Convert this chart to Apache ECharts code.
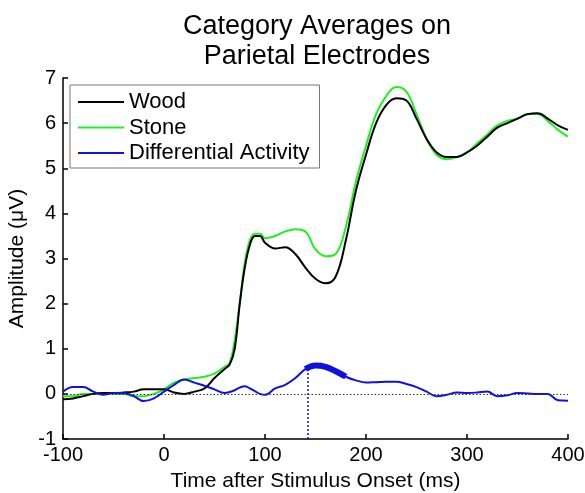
<!DOCTYPE html>
<html>
<head>
<meta charset="utf-8">
<script src="https://cdn.jsdelivr.net/npm/echarts@6/dist/echarts.min.js"></script>
<style>
  html, body { margin: 0; padding: 0; background: #fff; }
  #chart { width: 585px; height: 493px; }
</style>
</head>
<body>
<div id="chart"></div>
<script>
// time points (ms)
var times = [-100, -90, -80, -70, -60, -50, -40, -30, -20, -10, 0, 10, 20, 30, 40, 50, 60, 65, 70, 75, 80, 85, 90, 95, 100,
  110, 120, 130, 140, 150, 160, 170, 180, 190, 200, 210, 220, 230, 240, 250, 260, 270, 280, 290, 300,
  310, 320, 330, 340, 350, 360, 370, 380, 390, 400]

var wood = [-0.12, -0.1, -0.05, 0, 0.02, 0.02, 0.03, 0.05, 0.1, 0.1, 0.1, 0.03, 0.0, 0.05, 0.12, 0.35, 0.55, 0.65, 1.0, 2.0, 2.8, 3.3, 3.5, 3.5, 3.35,
  3.22, 3.25, 3.1, 2.8, 2.55, 2.45, 2.6, 3.4, 4.5, 5.3, 6.0, 6.4, 6.55, 6.5, 6.1, 5.65, 5.35, 5.25, 5.25, 5.35,
  5.5, 5.7, 5.9, 6.0, 6.1, 6.2, 6.22, 6.1, 5.95, 5.85]

var stone = [-0.05, -0.05, 0.0, 0.0, 0.02, 0.0, 0.0, -0.05, -0.05, 0.0, 0.1, 0.25, 0.32, 0.35, 0.38, 0.45, 0.6, 0.68, 1.2, 2.0, 2.9, 3.4, 3.55, 3.55, 3.45,
  3.5, 3.6, 3.65, 3.6, 3.2, 3.05, 3.1, 3.7, 4.7, 5.5, 6.2, 6.6, 6.8, 6.7, 6.2, 5.65, 5.3, 5.2, 5.25, 5.35,
  5.55, 5.75, 5.95, 6.05, 6.1, 6.2, 6.2, 6.05, 5.85, 5.7]

var diff = [0.05, 0.15, 0.15, 0.05, -0.02, 0.02, 0.02, -0.05, -0.16, -0.1, 0.05, 0.2, 0.32, 0.25, 0.18, 0.1, 0.02, 0.04, 0.08, 0.14, 0.17, 0.12, 0.06, 0.0, -0.02,
  0.12, 0.2, 0.35, 0.55, 0.63, 0.6, 0.5, 0.38, 0.3, 0.25, 0.26, 0.27, 0.27, 0.22, 0.15, 0.05, -0.05, -0.02, 0.03, 0.02,
  0.03, 0.05, -0.05, -0.03, 0.02, 0.01, 0.0, 0.0, -0.14, -0.15]

// significant window for differential activity
var sigStart = 142
var sigEnd = 182
var sigAmp = 0.55

function pairs(ys) {
  return times.map(function (t, i) { return [t, ys[i]] })
}

var sigData = pairs(diff).filter(function (p) { return p[0] >= 140 && p[0] <= sigEnd })

var font = 'Liberation Sans'
var myChart = echarts.init(document.getElementById('chart'))

myChart.setOption({
  animation: false,
  backgroundColor: '#fff',
  title: {
    text: 'Category Averages on\nParietal Electrodes',
    left: 312,
    top: 7,
    textAlign: 'center',
    textStyle: { fontFamily: font, fontSize: 27, fontWeight: 'normal', color: '#000', lineHeight: 30 }
  },
  legend: {
    orient: 'vertical',
    left: 70,
    top: 85,
    padding: [6, 10, 4, 8],
    itemGap: 3.5,
    itemWidth: 46,
    itemHeight: 2,
    icon: 'rect',
    borderColor: '#777',
    borderWidth: 1,
    data: ['Wood', 'Stone', 'Differential Activity'],
    textStyle: { fontFamily: font, fontSize: 22, color: '#000', lineHeight: 22 }
  },
  grid: { left: 63, right: 17, top: 78, bottom: 54, outerBoundsMode: 'none' },
  xAxis: {
    type: 'value',
    min: -100,
    max: 400,
    interval: 100,
    name: 'Time after Stimulus Onset (ms)',
    nameLocation: 'middle',
    nameGap: 32,
    nameTextStyle: { fontFamily: font, fontSize: 21, color: '#000' },
    axisLine: { onZero: false, lineStyle: { color: '#000', width: 1.5 } },
    axisTick: { inside: true, length: 5, lineStyle: { color: '#000', width: 1.5 } },
    axisLabel: { fontFamily: font, fontSize: 20, color: '#000', margin: 6 },
    splitLine: { show: false }
  },
  yAxis: {
    type: 'value',
    min: -1,
    max: 7,
    interval: 1,
    name: 'Amplitude (μV)',
    nameLocation: 'middle',
    nameGap: 25,
    nameTextStyle: { fontFamily: font, fontSize: 21, color: '#000' },
    axisLine: { show: true, onZero: false, lineStyle: { color: '#000', width: 1.5 } },
    axisTick: { show: true, inside: true, length: 5, lineStyle: { color: '#000', width: 1.5 } },
    axisLabel: { fontFamily: font, fontSize: 20, color: '#000', margin: 7 },
    splitLine: { show: false }
  },
  series: [
    {
      name: 'Wood',
      type: 'line',
      data: pairs(wood),
      smooth: 0.4,
      symbol: 'none',
      z: 3,
      lineStyle: { color: '#000', width: 2 },
      itemStyle: { color: '#000' },
      markLine: {
        silent: true,
        symbol: 'none',
        label: { show: false },
        lineStyle: { color: '#333', type: [1.5, 2], width: 1 },
        data: [{ yAxis: 0 }]
      }
    },
    {
      name: 'Stone',
      type: 'line',
      data: pairs(stone),
      smooth: 0.4,
      symbol: 'none',
      z: 2,
      lineStyle: { color: '#22ee22', width: 2 },
      itemStyle: { color: '#22ee22' }
    },
    {
      name: 'Differential Activity',
      type: 'line',
      data: pairs(diff),
      smooth: 0.4,
      symbol: 'none',
      z: 4,
      lineStyle: { color: '#1010e0', width: 2 },
      itemStyle: { color: '#1010e0' },
      markLine: {
        silent: true,
        symbol: 'none',
        label: { show: false },
        lineStyle: { color: '#1010e0', type: [2, 2], width: 1.5 },
        data: [[{ coord: [sigStart, -1] }, { coord: [sigStart, sigAmp] }]]
      }
    },
    {
      name: 'sig',
      type: 'line',
      data: sigData,
      smooth: 0.4,
      symbol: 'none',
      z: 5,
      lineStyle: { color: '#1010e0', width: 6 }
    }
  ]
})
</script>
</body>
</html>
